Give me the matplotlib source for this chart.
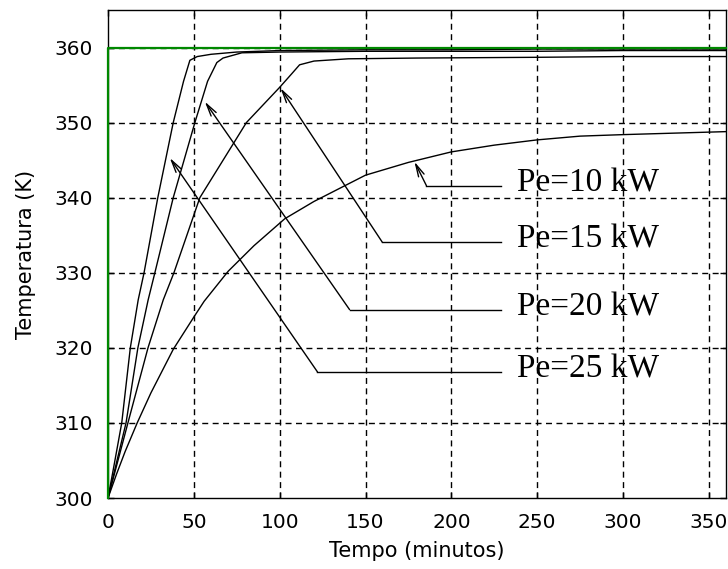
import matplotlib
matplotlib.use("Agg")
import matplotlib.pyplot as plt

# Curvas de temperatura (tiempo en minutos, T en K)
t_pe25 = [0, 3, 8, 13, 17.6, 21, 29, 38, 44, 47.7, 52, 60, 75, 100, 150, 200, 250, 300, 360]
T_pe25 = [300, 303.7, 310, 320, 326.4, 330, 340, 350, 355.5, 358.3, 358.8, 359.1, 359.4,
          359.6, 359.7, 359.7, 359.8, 359.8, 359.8]

t_pe20 = [0, 4, 10.5, 17.4, 23.4, 27.3, 38, 50.6, 58, 63.4, 67, 78, 100, 150, 200, 250, 300, 360]
T_pe20 = [300, 303.8, 310, 320, 326.4, 330, 340, 350, 355.5, 358.0, 358.6, 359.3, 359.4,
          359.5, 359.5, 359.5, 359.6, 359.6]

t_pe15 = [0, 5, 11.6, 23.3, 32.2, 38.4, 53.5, 80.6, 100, 107, 111.6, 120, 140, 180, 250, 300, 360]
T_pe15 = [300, 304.3, 310, 320, 326.4, 330, 340, 350, 354.7, 356.5, 357.7, 358.2, 358.5,
          358.6, 358.7, 358.8, 358.8]

t_pe10 = [0, 5, 10, 17, 25, 38, 50, 56, 70, 85, 103, 120, 150, 175, 200, 225, 250, 275, 300, 330, 360]
T_pe10 = [300, 303.2, 306.2, 310.0, 314.0, 319.8, 324.1, 326.2, 330.2, 333.6, 337.2, 339.5,
          343.0, 344.7, 346.1, 347.0, 347.7, 348.2, 348.4, 348.6, 348.8]

# Referencia (escalón a 360 K)
t_ref = [0, 0, 360]
T_ref = [300, 360, 360]

labels = ['Pe=10 kW', 'Pe=15 kW', 'Pe=20 kW', 'Pe=25 kW']
# punta de flecha, codo y nivel de la línea horizontal de cada etiqueta
tips = [(178.5, 344.8), (100.5, 354.6), (56.4, 352.8), (36.0, 345.3)]
elbows_x = [185.5, 159.7, 140.7, 122.0]
levels = [341.6, 334.1, 325.1, 316.8]

plt.rcParams['lines.scale_dashes'] = False
plt.rcParams['font.family'] = 'DejaVu Sans'

fig = plt.figure(figsize=(7.28, 5.69), dpi=100)
ax = fig.add_axes([108 / 728, 1 - 498 / 569, 618 / 728, 488 / 569])
ax.set_axisbelow(True)

ax.plot(t_ref, T_ref, color='#008800', lw=1.6, zorder=5, clip_on=False)
for t, T in [(t_pe25, T_pe25), (t_pe20, T_pe20), (t_pe15, T_pe15), (t_pe10, T_pe10)]:
    ax.plot(t, T, color='black', lw=1.0, zorder=4)

for lab, tip, ex, lev in zip(labels, tips, elbows_x, levels):
    ax.plot([229, ex], [lev, lev], color='black', lw=1.0)
    ax.annotate('', xy=tip, xytext=(ex, lev),
                arrowprops=dict(arrowstyle='->,head_length=0.9,head_width=0.22',
                                color='black', lw=1.0, shrinkA=0, shrinkB=0))
    ax.text(238.4, lev - 0.8, lab, family='Liberation Serif', fontsize=24,
            va='baseline', ha='left')

ax.set_xlim(0, 360)
ax.set_ylim(300, 365)
ax.set_xticks([0, 50, 100, 150, 200, 250, 300, 350])
ax.set_yticks([300, 310, 320, 330, 340, 350, 360])
ax.grid(True, color='black', linestyle=(0, (4.3, 3.2)), linewidth=1.0)
# las líneas de rejilla sobre los ejes (x=0, y=300) no se ven en el original
ax.get_xgridlines()[0].set_visible(False)
ax.get_ygridlines()[0].set_visible(False)
ax.tick_params(direction='in', length=4, width=1, labelsize=14.5, pad=11,
               top=True, right=True)
for s in ax.spines.values():
    s.set_linewidth(1.0)

ax.set_xlabel('Tempo (minutos)', fontsize=15, labelpad=6)
ax.set_ylabel('Temperatura (K)', fontsize=15, labelpad=13)

fig.savefig('out.png', dpi=100)
